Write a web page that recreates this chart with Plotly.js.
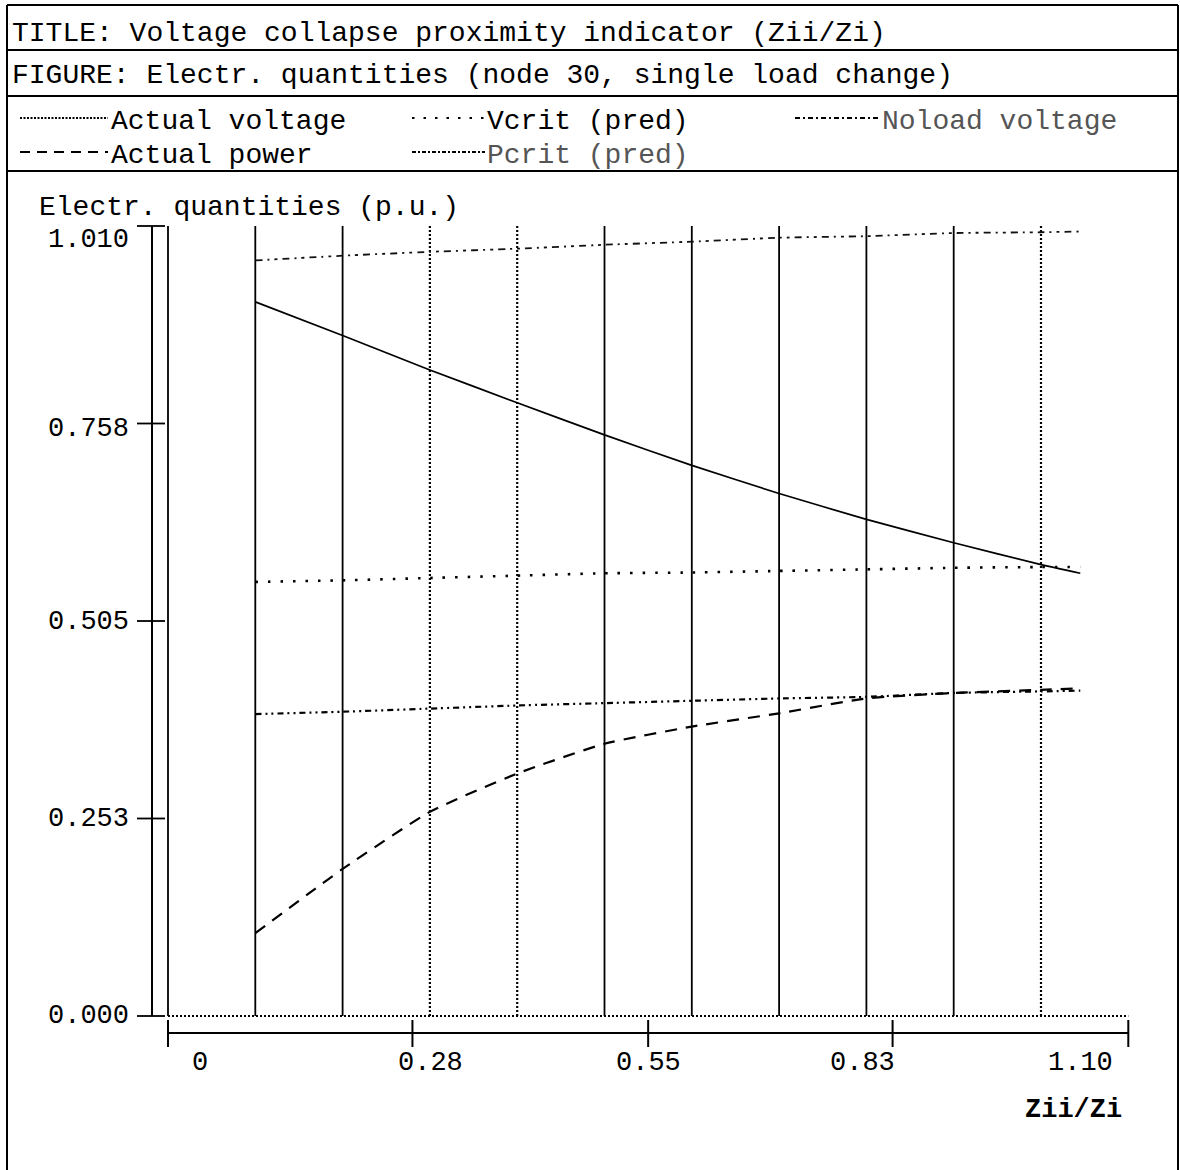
<!DOCTYPE html>
<html>
<head>
<meta charset="utf-8">
<script src="https://cdn.plot.ly/plotly-3.0.1.min.js"></script>
<style>html,body{margin:0;padding:0;background:#fff;}#chart{width:1180px;height:1170px;}</style>
</head>
<body>
<div id="chart"></div>
<script>
// ---------------- data ----------------
const titleText = 'TITLE: Voltage collapse proximity indicator (Zii/Zi)';
const figureText = 'FIGURE: Electr. quantities (node 30, single load change)';
const yAxisTitle = 'Electr. quantities (p.u.)';
const xAxisTitle = 'Zii/Zi';

const seriesNames = ['Actual voltage', 'Vcrit (pred)', 'Noload voltage', 'Actual power', 'Pcrit (pred)'];

const zRatio        = [0.1, 0.2, 0.3, 0.4, 0.5, 0.6, 0.7, 0.8, 0.9, 1.0, 1.045];
const actualVoltage = [0.913, 0.870, 0.826, 0.784, 0.743, 0.704, 0.668, 0.635, 0.605, 0.577, 0.566];
const vcritPred     = [0.555, 0.557, 0.560, 0.563, 0.566, 0.567, 0.569, 0.571, 0.573, 0.574, 0.574];
const noloadVoltage = [0.966, 0.972, 0.977, 0.981, 0.986, 0.990, 0.995, 0.997, 1.001, 1.002, 1.003];
const actualPower   = [0.106, 0.188, 0.261, 0.310, 0.348, 0.370, 0.387, 0.406, 0.413, 0.417, 0.419];
const pcritPred     = [0.386, 0.389, 0.393, 0.397, 0.400, 0.403, 0.406, 0.408, 0.413, 0.415, 0.416];

const gridX     = [0, 0.1, 0.2, 0.3, 0.4, 0.5, 0.6, 0.7, 0.8, 0.9, 1.0];
const gridDotted = [false, false, false, true, true, false, false, false, false, false, true];

const yTickVals = [0, 0.2525, 0.505, 0.7575, 1.01];
const yTickText = ['0.000', '0.253', '0.505', '0.758', '1.010'];
const xTickVals = [0, 0.28, 0.55, 0.83, 1.10];
const xTickText = ['0', '0.28', '0.55', '0.83', '1.10'];
const yMin = 0, yMax = 1.01, xMin = 0, xMax = 1.10;

// ---------------- layout geometry ----------------
const W = 1180, H = 1170;
const X0PX = 168, XSCALE = 873, Y0PX = 1016, YSCALE = (1016 - 226) / 1.01;
const px2x = p => (p - X0PX) / XSCALE;
const py2y = p => (Y0PX - p) / YSCALE;
const x2px = v => X0PX + v * XSCALE;
const y2py = v => Y0PX - v * YSCALE;
const PX = p => p / W;
const PY = p => 1 - p / H;

const FONT = 'Liberation Mono, DejaVu Sans Mono, monospace';
const BLACK = '#000';

const styles = [
  {dash: 'solid', width: 1.7, color: BLACK},
  {dash: '2.5px,10px', width: 2.6, color: BLACK},
  {dash: '7px,5px,2px,5px,3px,5px', width: 1.8, color: '#111'},
  {dash: '12px,9px', width: 2.2, color: BLACK},
  {dash: '6px,4px,2px,4px,2px,4px', width: 2.2, color: BLACK}
];
const seriesData = [actualVoltage, vcritPred, noloadVoltage, actualPower, pcritPred];

const traces = seriesData.map((ys, i) => ({
  type: 'scatter', mode: 'lines', x: zRatio, y: ys, name: seriesNames[i],
  line: {color: styles[i].color, width: styles[i].width, dash: styles[i].dash, shape: 'spline', smoothing: 0.5},
  hoverinfo: 'skip', showlegend: false
}));

const shapes = [];
const annotations = [];

// frame
const frameLine = (x0, y0, x1, y1) => shapes.push({type: 'line', xref: 'paper', yref: 'paper',
  x0: PX(x0), y0: PY(y0), x1: PX(x1), y1: PY(y1), line: {color: BLACK, width: 2}});
frameLine(7, 5, 7, 1170);
frameLine(1178, 5, 1178, 1170);
[5, 50, 96, 171].forEach(p => frameLine(7, p, 1178, p));

// header text
const textAt = (txt, xpx, ypx, size, color, opts) => annotations.push(Object.assign({
  xref: 'paper', yref: 'paper', x: PX(xpx), y: PY(ypx), text: txt, showarrow: false,
  xanchor: 'left', yanchor: 'middle', borderpad: 0,
  font: {family: FONT, size: size, color: color || BLACK}
}, opts || {}));
textAt(titleText, 11, 33, 28);
textAt(figureText, 11, 76, 28);

// legend
const legendPos = [
  {sx0: 20, sx1: 108, tx: 110, y: 122},
  {sx0: 412, sx1: 485, tx: 486, y: 122},
  {sx0: 795, sx1: 880, tx: 881, y: 122},
  {sx0: 20, sx1: 108, tx: 110, y: 156},
  {sx0: 412, sx1: 485, tx: 486, y: 156}
];
const legendSampleDash = ['2px,1.5px', '2.5px,9px', '5px,3px,2px,3px', '10px,7px', '4px,2px,2px,2px'];
const legendTextColor = [BLACK, BLACK, '#555', BLACK, '#555'];
seriesNames.forEach((name, i) => {
  const p = legendPos[i];
  shapes.push({type: 'line', xref: 'paper', yref: 'paper', x0: PX(p.sx0), x1: PX(p.sx1),
    y0: PY(p.y - 4), y1: PY(p.y - 4), line: {color: BLACK, width: 1.8, dash: legendSampleDash[i]}});
  textAt(name, p.tx, p.y, 28, legendTextColor[i]);
});

// grid (vertical lines)
gridX.forEach((gx, i) => {
  shapes.push({type: 'line', xref: 'x', yref: 'y', x0: gx, x1: gx, y0: yMin, y1: yMax,
    line: {color: BLACK, width: gridDotted[i] ? 2.2 : 1.8, dash: gridDotted[i] ? '2px,2px' : 'solid'}, layer: 'below'});
});
// baseline (dotted) at y = 0
shapes.push({type: 'line', xref: 'x', yref: 'y', x0: xMin, x1: xMax, y0: 0, y1: 0,
  line: {color: BLACK, width: 2, dash: '2px,2px'}, layer: 'below'});

// y axis line and ticks
const yAxisX = px2x(152);
shapes.push({type: 'line', xref: 'x', yref: 'y', x0: yAxisX, x1: yAxisX, y0: yMin, y1: yMax, line: {color: BLACK, width: 2}});
const yLabelShift = [0, 0, 1, 5, 14];
yTickVals.forEach((v, i) => {
  shapes.push({type: 'line', xref: 'x', yref: 'y', x0: px2x(137), x1: px2x(165), y0: v, y1: v, line: {color: BLACK, width: 1.8}});
  annotations.push({xref: 'x', yref: 'y', x: px2x(130), y: py2y(y2py(v) + yLabelShift[i]), text: yTickText[i],
    showarrow: false, xanchor: 'right', yanchor: 'middle', borderpad: 0,
    font: {family: FONT, size: 27, color: BLACK}});
});

// x axis line and ticks
const xAxisY = py2y(1033);
shapes.push({type: 'line', xref: 'x', yref: 'y', x0: xMin, x1: xMax, y0: xAxisY, y1: xAxisY, line: {color: BLACK, width: 2}});
const xLabelShift = [32, 18, 0, -30, -48];
xTickVals.forEach((v, i) => {
  shapes.push({type: 'line', xref: 'x', yref: 'y', x0: v, x1: v, y0: py2y(1020), y1: py2y(1047), line: {color: BLACK, width: 2}});
  annotations.push({xref: 'x', yref: 'y', x: px2x(x2px(v) + xLabelShift[i]), y: py2y(1063), text: xTickText[i],
    showarrow: false, xanchor: 'center', yanchor: 'middle', borderpad: 0,
    font: {family: FONT, size: 27, color: BLACK}});
});

// axis titles
annotations.push({xref: 'x', yref: 'y', x: px2x(1073), y: py2y(1110), text: '<b>' + xAxisTitle + '</b>',
  showarrow: false, xanchor: 'center', yanchor: 'middle', borderpad: 0, font: {family: FONT, size: 27, color: BLACK}});
annotations.push({xref: 'x', yref: 'y', x: px2x(38), y: py2y(207), text: yAxisTitle,
  showarrow: false, xanchor: 'left', yanchor: 'middle', borderpad: 0, font: {family: FONT, size: 28, color: BLACK}});

const layout = {
  width: W, height: H,
  margin: {l: 0, r: 0, t: 0, b: 0},
  paper_bgcolor: '#fff', plot_bgcolor: '#fff',
  showlegend: false,
  xaxis: {range: [px2x(0), px2x(W)], visible: false, fixedrange: true},
  yaxis: {range: [py2y(H), py2y(0)], visible: false, fixedrange: true},
  shapes: shapes,
  annotations: annotations
};

Plotly.newPlot('chart', traces, layout, {displayModeBar: false, staticPlot: true});
</script>
</body>
</html>
